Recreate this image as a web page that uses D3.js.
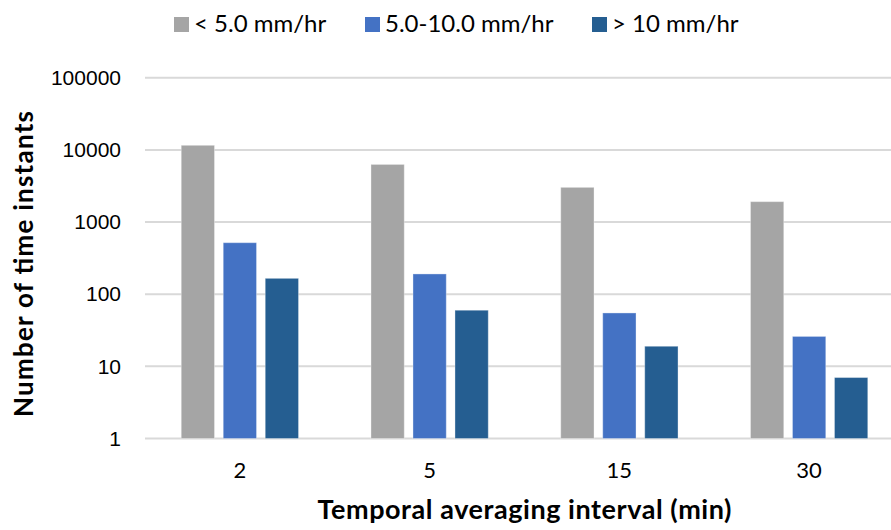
<!DOCTYPE html>
<html>
<head>
<meta charset="utf-8">
<script src="https://cdn.jsdelivr.net/npm/d3@7/dist/d3.min.js"></script>
<style>
  html, body { margin: 0; padding: 0; background: #fff; }
  svg { display: block; }
</style>
</head>
<body>
<svg id="chart" width="891" height="530"></svg>
<script>
// Averaging intervals (minutes) on the x axis
const intervals = ["2", "5", "15", "30"];
// Rain-rate classes shown in the legend
const seriesNames = ["< 5.0 mm/hr", "5.0-10.0 mm/hr", "> 10 mm/hr"];
// Number of time instants per class, one value per interval
const lowRate = [11600, 6300, 3030, 1920];
const midRate = [518, 191, 55, 26];
const highRate = [166, 60, 19, 7];
// Log-axis tick values
const yTicks = [1, 10, 100, 1000, 10000, 100000];

const colors = ["#A5A5A5", "#4472C4", "#255E91"];
const series = [lowRate, midRate, highRate];
const textFont = "Lato, 'Open Sans', sans-serif";

const svg = d3.select("#chart");
const plotLeft = 145, plotRight = 904;

const x = d3.scaleBand()
  .domain(intervals)
  .range([plotLeft, plotRight])
  .paddingInner(0)
  .paddingOuter(0);

const y = d3.scaleLog()
  .domain([1, 100000])
  .range([438.5, 77.8]);

// Gridlines
svg.append("g")
  .selectAll("line")
  .data(yTicks)
  .join("line")
  .attr("x1", plotLeft)
  .attr("x2", plotRight)
  .attr("y1", d => y(d))
  .attr("y2", d => y(d))
  .attr("stroke", "#D9D9D9")
  .attr("stroke-width", 2);

// Bars: three per interval group
const barW = 33.3, barGap = 8.7;
const groupW = barW * 3 + barGap * 2;
const inner = d3.scaleBand()
  .domain(d3.range(series.length))
  .range([0, groupW])
  .paddingInner(barGap / (barW + barGap))
  .paddingOuter(0);

const rows = [];
intervals.forEach((iv, i) => {
  series.forEach((s, k) => rows.push({ iv, k, v: s[i] }));
});

svg.append("g")
  .selectAll("rect")
  .data(rows)
  .join("rect")
  .attr("x", d => x(d.iv) + (x.bandwidth() - groupW) / 2 + inner(d.k))
  .attr("width", inner.bandwidth())
  .attr("y", d => y(d.v))
  .attr("height", d => y(1) - y(d.v))
  .attr("fill", d => colors[d.k])
  .attr("stroke", "#ffffff")
  .attr("stroke-opacity", 0.35)
  .attr("stroke-width", 1);

// Y axis labels
const yAxis = d3.axisLeft(y)
  .tickValues(yTicks)
  .tickFormat(d3.format("d"))
  .tickSize(0)
  .tickPadding(0);
const yg = svg.append("g")
  .attr("transform", "translate(121,0)")
  .attr("font-family", "'Liberation Sans', Arial, sans-serif")
  .call(yAxis);
yg.select(".domain").remove();
yg.selectAll("text")
  .style("font-family", "'Liberation Sans', Arial, sans-serif")
  .attr("font-size", 21)
  .attr("fill", "#000");

// X axis labels
const xAxis = d3.axisBottom(x).tickSize(0).tickPadding(0);
const xg = svg.append("g").call(xAxis);
xg.select(".domain").remove();
xg.selectAll("text")
  .attr("y", 478)
  .attr("dy", null)
  .style("font-family", textFont)
  .attr("font-size", 22)
  .attr("fill", "#000");

// Axis titles
svg.append("text")
  .attr("x", 524.5)
  .attr("y", 519)
  .attr("text-anchor", "middle")
  .attr("font-family", textFont)
  .attr("font-weight", "bold")
  .attr("font-size", 27)
  .attr("textLength", 414)
  .attr("lengthAdjust", "spacing")
  .attr("fill", "#000")
  .text("Temporal averaging interval (min)");

svg.append("text")
  .attr("transform", "translate(33,264) rotate(-90)")
  .attr("text-anchor", "middle")
  .attr("font-family", textFont)
  .attr("font-weight", "bold")
  .attr("font-size", 26)
  .attr("textLength", 306)
  .attr("lengthAdjust", "spacing")
  .attr("fill", "#000")
  .text("Number of time instants");

// Legend
const legendX = [174, 365, 592];
const lg = svg.append("g")
  .selectAll("g")
  .data(seriesNames)
  .join("g")
  .attr("transform", (d, i) => `translate(${legendX[i]},17)`);
lg.append("rect")
  .attr("width", 15)
  .attr("height", 15)
  .attr("fill", (d, i) => colors[i]);
lg.append("text")
  .attr("x", 20)
  .attr("y", 15)
  .attr("font-family", textFont)
  .attr("font-size", 24)
  .attr("fill", "#000")
  .text(d => d);
</script>
</body>
</html>
